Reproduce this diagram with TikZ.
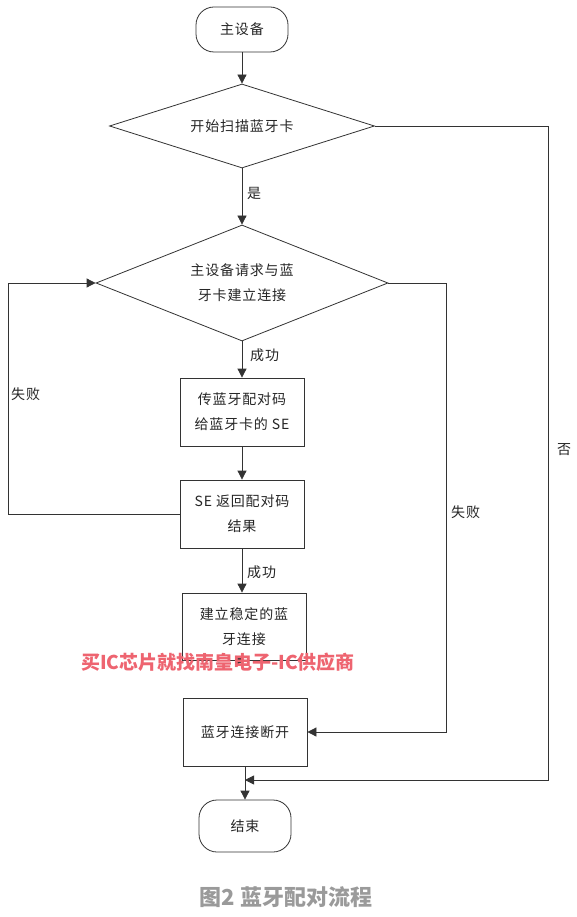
\documentclass[tikz,border=0pt]{standalone}
\usepackage{fontspec}
\setmainfont{Noto Sans CJK SC}
\usetikzlibrary{arrows.meta,shapes.geometric}
\definecolor{linec}{HTML}{333333}
\definecolor{capc}{HTML}{9A9A9A}
\definecolor{wmc}{HTML}{EE6470}
\begin{document}
\begin{tikzpicture}[x=1pt,y=-1pt,
  every node/.style={font=\fontsize{14}{25}\selectfont\addfontfeature{LetterSpace=6}, text=black!85},
  term/.style={draw=linec, line width=0.8pt, rectangle, rounded corners=18pt, minimum width=92pt, inner sep=0pt},
  dec/.style={draw=linec, line width=0.8pt, diamond, inner sep=0pt, align=center},
  proc/.style={draw=linec, line width=0.8pt, rectangle, minimum width=124pt, minimum height=68pt, inner sep=0pt, align=center},
  conn/.style={draw=linec, line width=0.8pt, -{Triangle[length=9pt,width=9pt]}},
  plain/.style={draw=linec, line width=0.8pt},
  lbl/.style={inner sep=0pt, anchor=west}
]
\useasboundingbox (0,0) rectangle (576,917);
\fill[white] (0,0) rectangle (576,917);

\node[term, minimum height=45pt] (start) at (242,29.5) {主设备};
\node[dec, aspect=3.15, minimum width=265pt, minimum height=84pt] (d1) at (242,126) {开始扫描蓝牙卡};
\node[dec, aspect=2.5, minimum width=292pt, minimum height=116pt] (d2) at (242,283) {主设备请求与蓝\\牙卡建立连接};
\node[proc] (b1) at (242,412) {传蓝牙配对码\\给蓝牙卡的 SE};
\node[proc] (b2) at (242,514) {SE 返回配对码\\结果};
\node[proc, minimum height=67pt] (b3) at (244,626.5) {建立稳定的蓝\\牙连接};
\node[proc] (b4) at (245,732) {蓝牙连接断开};
\node[term, minimum height=52pt] (end) at (245,826) {结束};

\coordinate (lf) at (8,514);
\coordinate (rf) at (446,283);
\coordinate (no) at (548,126);
\coordinate (join) at (245,780);

\draw[conn] (start) -- (d1);
\draw[conn] (d1.south) -- (d2.north);
\node[lbl] (yes) at (247,193) {是};
\draw[conn] (d2.south) -- (b1.north);
\node[lbl] (ok1) at (250,355) {成功};
\draw[conn] (b1) -- (b2);
\draw[conn] (b2.south) -- (b2.south |- b3.north);
\node[lbl] (ok2) at (247,572) {成功};
\draw[conn] (b3.south) -- (b3.south -| b4.north);
\draw[plain] (b4.south) -- (join);
\draw[conn] (join) -- (end.north);

\draw[conn] (b2.west) -- (lf) |- (d2.west);
\node[lbl] (f1) at (11,394) {失败};
\draw[conn] (d2.east) -- (rf) |- (b4.east);
\node[lbl] (f2) at (451,512) {失败};
\draw[conn] (d1.east) -- (no) |- (join);
\node[lbl] (n1) at (557,450) {否};

\node[inner sep=0pt, font=\fontsize{19}{21}\selectfont\bfseries, text=wmc] (wm) at (218,662) {买IC芯片就找南皇电子-IC供应商};
\node[inner sep=0pt, font=\fontsize{22}{24}\selectfont\bfseries, text=capc] (cap) at (286,897) {图2 蓝牙配对流程};
\end{tikzpicture}
\end{document}
